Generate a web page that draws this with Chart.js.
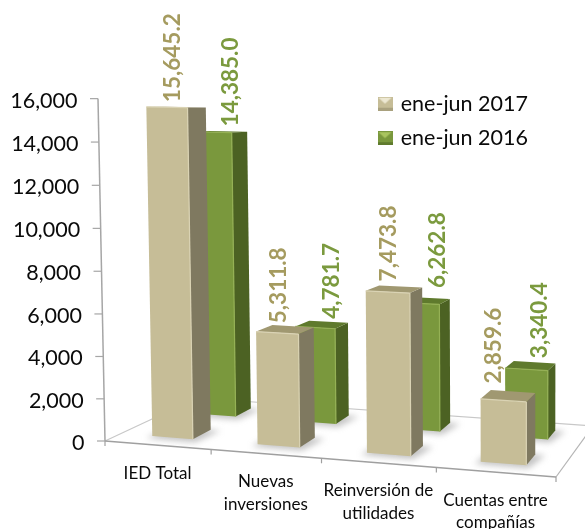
<!DOCTYPE html>
<html>
<head>
<meta charset="utf-8">
<script src="https://cdn.jsdelivr.net/npm/chart.js@4"></script>
<style>
    html, body { margin: 0; padding: 0; background: #fff; overflow: hidden; }
    canvas { display: block; }
</style>
</head>
<body>
<canvas id="barChart" width="585" height="529"></canvas>
<script>
const categories = [['IED Total'], ['Nuevas', 'inversiones'], ['Reinversión de', 'utilidades'], ['Cuentas entre', 'compañías']];
const series2017 = [15645.2, 5311.8, 7473.8, 2859.6];
const series2016 = [14385.0, 4781.7, 6262.8, 3340.4];
const seriesNames = ['ene-jun 2017', 'ene-jun 2016'];

const FONT = 'Lato, Carlito, sans-serif';

// floor corners on screen: front-left, front-right, back-right, back-left
const floor = [[105, 441], [556, 477], [593, 426], [197, 398]];

// square-to-quad perspective for the floor, verticals lean to a far vanishing point
const [[x0, y0], [x1, y1], [x2, y2], [x3, y3]] = floor;
const den = (x1 - x2) * (y3 - y2) - (x3 - x2) * (y1 - y2);
const gu = ((x0 - x1 + x2 - x3) * (y3 - y2) - (x3 - x2) * (y0 - y1 + y2 - y3)) / den;
const gv = ((x1 - x2) * (y0 - y1 + y2 - y3) - (x0 - x1 + x2 - x3) * (y1 - y2)) / den;
const leanX = -0.0251;
const leanW = -1 / 20700;

function project(u, v, h) {
    const w = gu * u + gv * v + 1 + leanW * h;
    return {
        x: ((x1 - x0 + gu * x1) * u + (x3 - x0 + gv * x3) * v + x0 + leanX * h) / w,
        y: ((y1 - y0 + gu * y1) * u + (y3 - y0 + gv * y3) * v + y0 - h) / w
    };
}

function poly(ctx, points, fill) {
    ctx.beginPath();
    points.forEach((p, i) => i ? ctx.lineTo(p.x, p.y) : ctx.moveTo(p.x, p.y));
    ctx.closePath();
    ctx.fillStyle = fill;
    ctx.fill();
}

function segment(ctx, a, b, color, width) {
    ctx.beginPath();
    ctx.moveTo(a.x, a.y);
    ctx.lineTo(b.x, b.y);
    ctx.strokeStyle = color;
    ctx.lineWidth = width;
    ctx.stroke();
}

const scene3d = {
    id: 'scene3d',
    afterLayout(chart) {
        // put the legend inside the plot, upper right
        const legend = chart.legend;
        const w = legend.width, h = legend.height;
        legend.left = 367; legend.right = 367 + w;
        legend.top = 80; legend.bottom = 80 + h;
    },
    beforeDatasetsDraw(chart) {
        const ctx = chart.ctx;
        const { x: xScale, y: yScale } = chart.scales;
        ctx.save();

        // floor edges
        segment(ctx, project(0, 0, 0), project(0, 1, 0), '#C8C8C8', 1.2);
        segment(ctx, project(0, 1, 0), project(1, 1, 0), '#C8C8C8', 1.2);
        segment(ctx, project(1, 1, 0), project(1, 0, 0), '#B4B4B4', 1.2);
        segment(ctx, project(0, 0, 0), project(1, 0, 0), '#A0A0A0', 1.5);

        // value axis, from the library's ticks
        const axisTop = yScale.bottom - yScale.top;
        segment(ctx, project(0, 0, 0), project(0, 0, axisTop), '#A6A6A6', 1.5);
        ctx.font = '21.5px ' + FONT;
        ctx.fillStyle = '#0A0A0A';
        ctx.textAlign = 'right';
        ctx.textBaseline = 'middle';
        yScale.ticks.forEach(t => {
            const p = project(0, 0, yScale.bottom - yScale.getPixelForValue(t.value));
            segment(ctx, { x: p.x - 8, y: p.y }, p, '#A6A6A6', 1.2);
            ctx.fillText(t.label, p.x - 20.5, p.y + 2);
        });

        // category ticks and labels
        const n = chart.data.labels.length;
        for (let i = 0; i <= n; i++) {
            const p = project(i / n, 0, 0);
            segment(ctx, p, { x: p.x, y: p.y + 5 }, '#A0A0A0', 1.2);
        }
        ctx.font = '17px ' + FONT;
        ctx.fillStyle = '#0A0A0A';
        ctx.textAlign = 'center';
        chart.data.labels.forEach((lines, i) => {
            const px = xScale.getPixelForValue(i);
            const p = project((px - xScale.left) / xScale.width, 0, 0);
            lines.forEach((line, k) => ctx.fillText(line, p.x, p.y + 28 + k * 22.5));
        });
        ctx.restore();
    },
    beforeDatasetDraw(chart, args) {
        const ctx = chart.ctx;
        const ds = chart.data.datasets[args.index];
        const { x: xScale, y: yScale } = chart.scales;
        ctx.save();
        args.meta.data.forEach(bar => {
            const u0 = (bar.x - bar.width / 2 - xScale.left) / xScale.width;
            const u1 = (bar.x + bar.width / 2 - xScale.left) / xScale.width;
            const [v0, v1] = ds.depth;
            const h = yScale.bottom - bar.y;
            const fl = project(u0, v0, 0), fr = project(u1, v0, 0), br = project(u1, v1, 0), bl = project(u0, v1, 0);
            const tfl = project(u0, v0, h), tfr = project(u1, v0, h), tbr = project(u1, v1, h), tbl = project(u0, v1, h);

            // soft contact shadow on the floor
            ctx.save();
            ctx.filter = 'blur(3px)';
            poly(ctx, [{ x: fl.x - 6, y: fl.y + 2 }, { x: fr.x + 2, y: fr.y + 3 }, { x: br.x + 10, y: br.y + 1 }, bl], 'rgba(120,120,120,.45)');
            ctx.restore();

            poly(ctx, [fr, br, tbr, tfr], ds.sideColor);
            poly(ctx, [fl, fr, tfr, tfl], ds.frontColor);
            poly(ctx, [tfl, tfr, tbr, tbl], ds.topColor);
            // bevel highlights
            segment(ctx, fr, tfr, ds.edgeColor, 1.2);
            segment(ctx, tfl, tfr, ds.edgeColor, 1.2);
        });
        ctx.restore();
        return false;
    },
    afterDatasetsDraw(chart) {
        const ctx = chart.ctx;
        const { x: xScale, y: yScale } = chart.scales;
        ctx.save();
        ctx.font = 'bold 22.5px ' + FONT;
        ctx.textAlign = 'left';
        ctx.textBaseline = 'middle';
        chart.data.datasets.forEach((ds, d) => {
            ctx.fillStyle = ds.labelColor;
            chart.getDatasetMeta(d).data.forEach((bar, i) => {
                const u = (bar.x - xScale.left) / xScale.width;
                const top = project(u, ds.depth[1], yScale.bottom - bar.y);
                ctx.save();
                ctx.translate(top.x + ds.labelDx[i], top.y - ds.labelGap[i]);
                ctx.rotate(-Math.PI / 2);
                ctx.fillText(ds.data[i].toLocaleString('en-US', { minimumFractionDigits: 1, maximumFractionDigits: 1 }), 0, 0);
                ctx.restore();
            });
        });
        ctx.restore();
    }
};

// small pillow marker for the legend
function legendMarker(light, mid, dark) {
    const c = document.createElement('canvas');
    c.width = 15; c.height = 14;
    const g = c.getContext('2d');
    g.fillStyle = mid; g.fillRect(0, 0, 15, 14);
    g.fillStyle = light;
    g.beginPath(); g.moveTo(1, 1); g.lineTo(14, 1); g.lineTo(7.5, 7); g.closePath(); g.fill();
    g.fillStyle = dark; g.fillRect(0, 11, 15, 3);
    return c;
}

const markers = [legendMarker('#EDE8D2', '#C6BD97', '#A9A17E'), legendMarker('#A9C45F', '#7A983D', '#5F7A2D')];

new Chart(document.getElementById('barChart'), {
    type: 'bar',
    data: {
        labels: categories,
        datasets: [
            {
                label: seriesNames[0],
                data: series2017,
                depth: [0.155, 0.355],
                frontColor: '#C6BD97', sideColor: '#7F7960', topColor: '#A09871', edgeColor: '#DAD3B4',
                labelColor: '#A59B5F',
                labelDx: [-13, -14, -12, -19],
                labelGap: [5, 3, 5, 8]
            },
            {
                label: seriesNames[1],
                data: series2016,
                depth: [0.655, 0.85],
                frontColor: '#7A983D', sideColor: '#4C6223', topColor: '#5F7A2D', edgeColor: '#95B155',
                labelColor: '#7B9A3E',
                labelDx: [3, 3, 8, 5],
                labelGap: [5, 3, 10, 4]
            }
        ]
    },
    options: {
        responsive: false,
        animation: false,
        events: [],
        layout: { padding: { left: 105, right: 29, top: 97, bottom: 88 } },
        datasets: { bar: { grouped: false, categoryPercentage: 1, barPercentage: 0.39 } },
        scales: {
            x: { display: false },
            y: { display: false, min: 0, max: 16000, ticks: { stepSize: 2000 } }
        },
        plugins: {
            tooltip: { enabled: false },
            legend: {
                position: 'chartArea',
                align: 'start',
                labels: {
                    usePointStyle: true,
                    boxWidth: 10,
                    padding: 13,
                    color: '#0A0A0A',
                    font: { family: FONT, size: 21.5 },
                    generateLabels: chart => chart.data.datasets.map((ds, i) => ({
                        text: ds.label,
                        pointStyle: markers[i],
                        fontColor: '#0A0A0A',
                        datasetIndex: i
                    }))
                }
            }
        }
    },
    plugins: [scene3d]
});
</script>
</body>
</html>
